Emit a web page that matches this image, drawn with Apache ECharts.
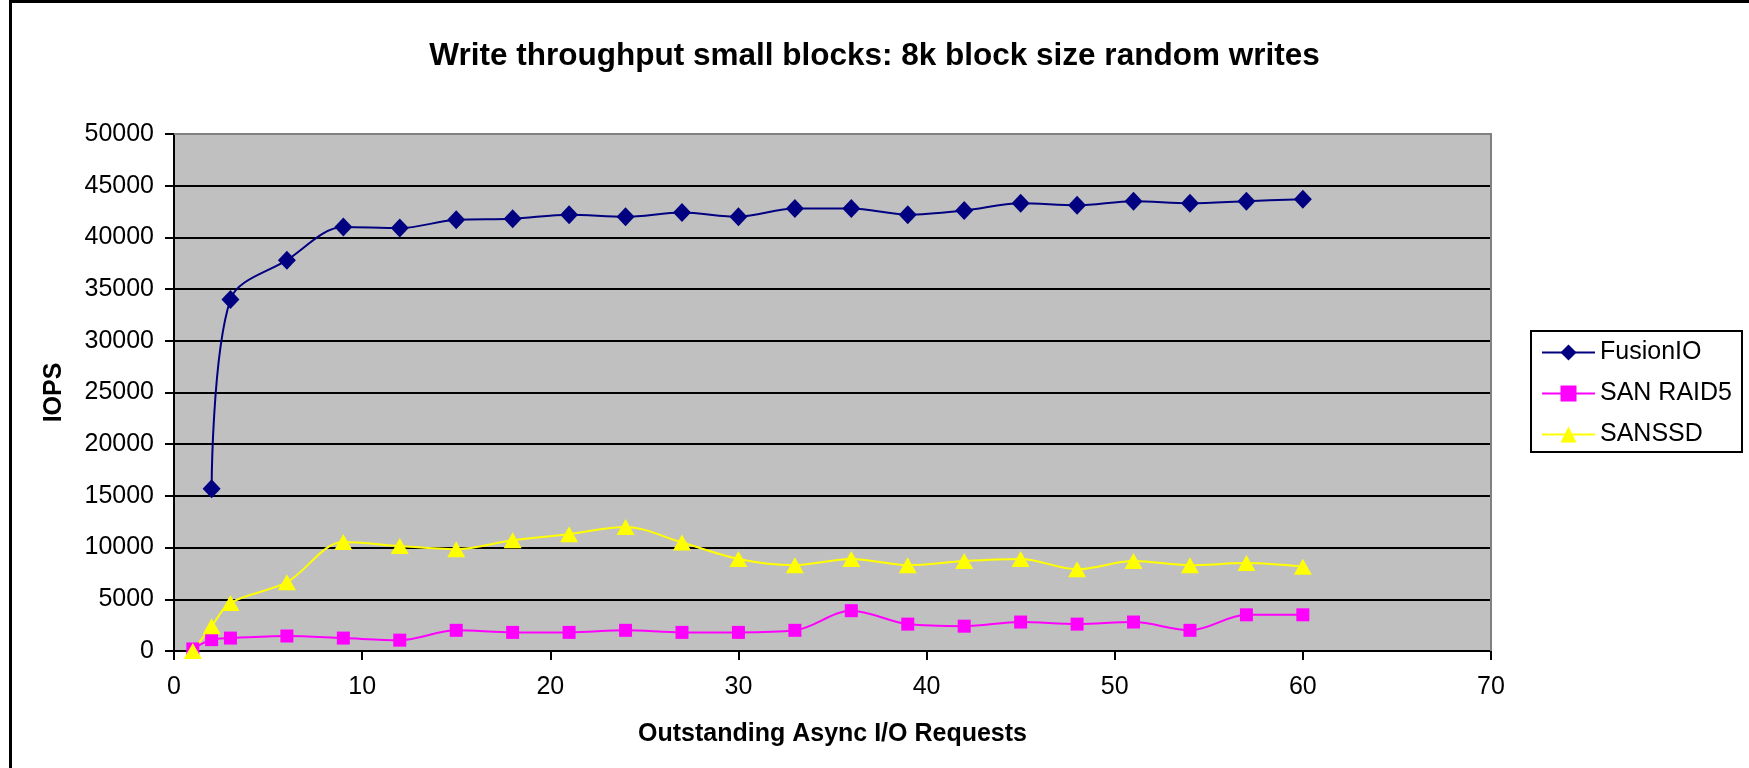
<!DOCTYPE html>
<html>
<head>
<meta charset="utf-8">
<title>Write throughput small blocks</title>
<script src="https://cdn.jsdelivr.net/npm/echarts@6/dist/echarts.min.js"></script>
<style>
  html, body { margin: 0; padding: 0; background: #ffffff; }
  #chart { width: 1749px; height: 768px; }
</style>
</head>
<body>
<div id="chart"></div>
<script>
// Outstanding async I/O requests (x values shared by all series)
const requests = [1, 2, 3, 6, 9, 12, 15, 18, 21, 24, 27, 30, 33, 36, 39, 42, 45, 48, 51, 54, 57, 60];

// IOPS per series (null = not measured)
const fusionIO = [null, 15700, 34000, 37800, 41000, 40900, 41700, 41800, 42200, 42000, 42400, 42000,
                  42800, 42800, 42200, 42600, 43300, 43100, 43500, 43300, 43500, 43700];
const sanRaid5 = [200, 1100, 1250, 1450, 1250, 1050, 2000, 1800, 1800, 2000, 1800, 1800,
                  2000, 3900, 2600, 2400, 2800, 2600, 2800, 2000, 3500, 3500];
const sanSSD   = [0, 2400, 4650, 6650, 10550, 10150, 9850, 10700, 11300, 12000, 10500, 8900,
                  8300, 8900, 8300, 8700, 8900, 7900, 8700, 8300, 8500, 8150];

const seriesNames = ['FusionIO', 'SAN RAID5', 'SANSSD'];
const xTicks = [0, 70, 10];      // min, max, interval
const yTicks = [0, 50000, 5000]; // min, max, interval

const FONT = '"Liberation Sans", Arial, Helvetica, sans-serif';

function pairs(vals) {
  const out = [];
  requests.forEach((x, i) => { if (vals[i] !== null) out.push([x, vals[i]]); });
  return out;
}

const chart = echarts.init(document.getElementById('chart'), null, { renderer: 'canvas' });

function lineSeries(name, vals, color, symbol, size) {
  return {
    name: name,
    type: 'line',
    data: pairs(vals),
    smooth: 0.33,
    symbol: symbol,
    symbolSize: size,
    showAllSymbol: true,
    lineStyle: { color: color, width: 2 },
    itemStyle: { color: color, borderWidth: 0 },
    emphasis: { disabled: true },
    animation: false
  };
}

chart.setOption({
  animation: false,
  backgroundColor: '#ffffff',
  title: {
    text: 'Write throughput small blocks: 8k block size random writes',
    left: 'center',
    top: 36,
    textStyle: { fontFamily: FONT, fontSize: 31.5, fontWeight: 'bold', color: '#000', lineHeight: 31 }
  },
  legend: {
    orient: 'vertical',
    left: 1531,
    top: 331,
    padding: [9, 10, 5, 10],
    itemGap: 16,
    itemWidth: 53,
    itemHeight: 20,
    backgroundColor: '#ffffff',
    borderColor: '#000000',
    borderWidth: 2,
    borderRadius: 0,
    data: seriesNames,
    textStyle: { fontFamily: FONT, fontSize: 25, color: '#000', lineHeight: 25 }
  },
  grid: {
    left: 174,
    right: 258,
    top: 134,
    bottom: 117,
    show: true,
    backgroundColor: '#C0C0C0',
    borderWidth: 0,
    containLabel: false,
    outerBoundsMode: 'none'
  },
  xAxis: {
    type: 'value',
    min: xTicks[0],
    max: xTicks[1],
    interval: xTicks[2],
    name: 'Outstanding Async I/O Requests',
    nameLocation: 'middle',
    nameGap: 71,
    nameTextStyle: { fontFamily: FONT, fontSize: 25, fontWeight: 'bold', color: '#000' },
    axisLine: { show: true, onZero: false, lineStyle: { color: '#000', width: 2 } },
    axisTick: { show: true, inside: false, length: 9, lineStyle: { color: '#000', width: 2 } },
    axisLabel: { margin: 24, fontFamily: FONT, fontSize: 25, color: '#000' },
    splitLine: { show: false }
  },
  yAxis: {
    type: 'value',
    min: yTicks[0],
    max: yTicks[1],
    interval: yTicks[2],
    name: 'IOPS',
    nameLocation: 'middle',
    nameGap: 107,
    nameRotate: 90,
    nameTextStyle: { fontFamily: FONT, fontSize: 25, fontWeight: 'bold', color: '#000' },
    axisLine: { show: true, lineStyle: { color: '#000', width: 2 } },
    axisTick: { show: true, inside: false, length: 9, lineStyle: { color: '#000', width: 2 } },
    axisLabel: {
      margin: 20, fontFamily: FONT, fontSize: 25, color: '#000',
      formatter: (v) => String(v)
    },
    splitLine: { show: true, lineStyle: { color: '#000', width: 2 } }
  },
  series: [
    lineSeries(seriesNames[0], fusionIO, '#000080', 'diamond', [18, 19]),
    lineSeries(seriesNames[1], sanRaid5, '#FF00FF', 'rect', 13),
    lineSeries(seriesNames[2], sanSSD, '#FFFF00', 'triangle', [18, 16])
  ]
});

// Plot-area frame (grey top/right edges) and the outer chart border
const tl = chart.convertToPixel({ gridIndex: 0 }, [xTicks[0], yTicks[1]]);
const br = chart.convertToPixel({ gridIndex: 0 }, [xTicks[1], yTicks[0]]);
chart.setOption({
  graphic: [
    {
      type: 'polyline',
      z: 100,
      silent: true,
      shape: { points: [[tl[0], tl[1]], [br[0], tl[1]], [br[0], br[1]]] },
      style: { stroke: '#808080', lineWidth: 2, fill: null }
    },
    {
      type: 'rect',
      z: 100,
      silent: true,
      shape: { x: 10.5, y: 1.5, width: 1800, height: 800 },
      style: { stroke: '#000', lineWidth: 3, fill: null }
    }
  ]
});
</script>
</body>
</html>
